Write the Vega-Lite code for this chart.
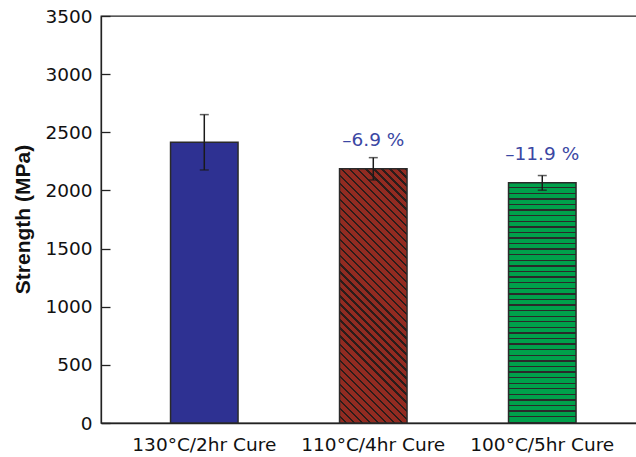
{
  "$schema": "https://vega.github.io/schema/vega-lite/v6.json",
  "autosize": {"type": "none"},
  "padding": {"left": 101, "top": 16, "right": -5, "bottom": 34},
  "width": 540,
  "height": 407,
  "background": "white",
  "config": {
    "view": {"stroke": "#222222", "strokeWidth": 1.3},
    "axis": {"domainColor": "#222222", "domainWidth": 1.3, "tickColor": "#222222", "tickWidth": 1.3, "grid": false, "labelColor": "#111111", "titleColor": "#111111"}
  },
  "data": {"values": [
    {"cure": "130°C/2hr Cure", "strength": 2414, "low": 2176, "high": 2652, "label": ""},
    {"cure": "110°C/4hr Cure", "strength": 2186, "low": 2090, "high": 2282, "label": "–6.9 %"},
    {"cure": "100°C/5hr Cure", "strength": 2065, "low": 2002, "high": 2128, "label": "–11.9 %"}
  ]},
  "encoding": {
    "x": {"field": "cure", "type": "nominal", "sort": null,
      "scale": {"paddingInner": 0.6006, "paddingOuter": 0.398, "align": 0.517},
      "axis": {"title": null, "labelAngle": 0, "ticks": false, "labelPadding": 12, "labelFont": "DejaVu Sans", "labelFontSize": 18.5, "labelBaseline": "top"}}
  },
  "layer": [
    {
      "transform": [{"filter": "datum.cure === '130°C/2hr Cure'"}],
      "mark": {"type": "bar", "fill": "#2e3192", "stroke": "#2a2a2a", "strokeWidth": 1.5},
      "encoding": {
        "y": {"field": "strength", "type": "quantitative",
          "scale": {"domain": [0, 3500], "nice": false, "zero": true},
          "axis": {
            "title": "Strength (MPa)", "titleFont": "Liberation Sans", "titleFontSize": 21, "titleFontWeight": "bold",
            "titleX": -72, "titleY": 203, "titleAlign": "center", "titleBaseline": "alphabetic", "titleAngle": -90,
            "values": [0, 250, 500, 750, 1000, 1250, 1500, 1750, 2000, 2250, 2500, 2750, 3000, 3250, 3500],
            "format": "d",
            "labelExpr": "datum.value % 500 === 0 ? datum.label : ''",
            "labelFont": "DejaVu Sans", "labelFontSize": 18.5, "labelPadding": 18, "labelFlush": false, "labelOverlap": false,
            "tickSize": {"condition": {"test": "datum.value % 500 !== 0", "value": -5}, "value": -9}
          }}
      }
    },
    {
      "transform": [{"filter": "datum.cure === '110°C/4hr Cure'"}],
      "mark": {"type": "bar", "stroke": "#2a2a2a", "strokeWidth": 1.5,
        "fill": {"gradient": "linear", "x1": 0, "y1": 1, "x2": 0.3139, "y2": -0.1822, "stops": [
          {"offset": 0, "color": "#922b21"}, {"offset": 0.0175, "color": "#922b21"}, {"offset": 0.0175, "color": "#2b1c1a"}, {"offset": 0.025, "color": "#2b1c1a"},
          {"offset": 0.025, "color": "#922b21"}, {"offset": 0.0425, "color": "#922b21"}, {"offset": 0.0425, "color": "#2b1c1a"}, {"offset": 0.05, "color": "#2b1c1a"},
          {"offset": 0.05, "color": "#922b21"}, {"offset": 0.0675, "color": "#922b21"}, {"offset": 0.0675, "color": "#2b1c1a"}, {"offset": 0.075, "color": "#2b1c1a"},
          {"offset": 0.075, "color": "#922b21"}, {"offset": 0.0925, "color": "#922b21"}, {"offset": 0.0925, "color": "#2b1c1a"}, {"offset": 0.1, "color": "#2b1c1a"},
          {"offset": 0.1, "color": "#922b21"}, {"offset": 0.1175, "color": "#922b21"}, {"offset": 0.1175, "color": "#2b1c1a"}, {"offset": 0.125, "color": "#2b1c1a"},
          {"offset": 0.125, "color": "#922b21"}, {"offset": 0.1425, "color": "#922b21"}, {"offset": 0.1425, "color": "#2b1c1a"}, {"offset": 0.15, "color": "#2b1c1a"},
          {"offset": 0.15, "color": "#922b21"}, {"offset": 0.1675, "color": "#922b21"}, {"offset": 0.1675, "color": "#2b1c1a"}, {"offset": 0.175, "color": "#2b1c1a"},
          {"offset": 0.175, "color": "#922b21"}, {"offset": 0.1925, "color": "#922b21"}, {"offset": 0.1925, "color": "#2b1c1a"}, {"offset": 0.2, "color": "#2b1c1a"},
          {"offset": 0.2, "color": "#922b21"}, {"offset": 0.2175, "color": "#922b21"}, {"offset": 0.2175, "color": "#2b1c1a"}, {"offset": 0.225, "color": "#2b1c1a"},
          {"offset": 0.225, "color": "#922b21"}, {"offset": 0.2425, "color": "#922b21"}, {"offset": 0.2425, "color": "#2b1c1a"}, {"offset": 0.25, "color": "#2b1c1a"},
          {"offset": 0.25, "color": "#922b21"}, {"offset": 0.2675, "color": "#922b21"}, {"offset": 0.2675, "color": "#2b1c1a"}, {"offset": 0.275, "color": "#2b1c1a"},
          {"offset": 0.275, "color": "#922b21"}, {"offset": 0.2925, "color": "#922b21"}, {"offset": 0.2925, "color": "#2b1c1a"}, {"offset": 0.3, "color": "#2b1c1a"},
          {"offset": 0.3, "color": "#922b21"}, {"offset": 0.3175, "color": "#922b21"}, {"offset": 0.3175, "color": "#2b1c1a"}, {"offset": 0.325, "color": "#2b1c1a"},
          {"offset": 0.325, "color": "#922b21"}, {"offset": 0.3425, "color": "#922b21"}, {"offset": 0.3425, "color": "#2b1c1a"}, {"offset": 0.35, "color": "#2b1c1a"},
          {"offset": 0.35, "color": "#922b21"}, {"offset": 0.3675, "color": "#922b21"}, {"offset": 0.3675, "color": "#2b1c1a"}, {"offset": 0.375, "color": "#2b1c1a"},
          {"offset": 0.375, "color": "#922b21"}, {"offset": 0.3925, "color": "#922b21"}, {"offset": 0.3925, "color": "#2b1c1a"}, {"offset": 0.4, "color": "#2b1c1a"},
          {"offset": 0.4, "color": "#922b21"}, {"offset": 0.4175, "color": "#922b21"}, {"offset": 0.4175, "color": "#2b1c1a"}, {"offset": 0.425, "color": "#2b1c1a"},
          {"offset": 0.425, "color": "#922b21"}, {"offset": 0.4425, "color": "#922b21"}, {"offset": 0.4425, "color": "#2b1c1a"}, {"offset": 0.45, "color": "#2b1c1a"},
          {"offset": 0.45, "color": "#922b21"}, {"offset": 0.4675, "color": "#922b21"}, {"offset": 0.4675, "color": "#2b1c1a"}, {"offset": 0.475, "color": "#2b1c1a"},
          {"offset": 0.475, "color": "#922b21"}, {"offset": 0.4925, "color": "#922b21"}, {"offset": 0.4925, "color": "#2b1c1a"}, {"offset": 0.5, "color": "#2b1c1a"},
          {"offset": 0.5, "color": "#922b21"}, {"offset": 0.5175, "color": "#922b21"}, {"offset": 0.5175, "color": "#2b1c1a"}, {"offset": 0.525, "color": "#2b1c1a"},
          {"offset": 0.525, "color": "#922b21"}, {"offset": 0.5425, "color": "#922b21"}, {"offset": 0.5425, "color": "#2b1c1a"}, {"offset": 0.55, "color": "#2b1c1a"},
          {"offset": 0.55, "color": "#922b21"}, {"offset": 0.5675, "color": "#922b21"}, {"offset": 0.5675, "color": "#2b1c1a"}, {"offset": 0.575, "color": "#2b1c1a"},
          {"offset": 0.575, "color": "#922b21"}, {"offset": 0.5925, "color": "#922b21"}, {"offset": 0.5925, "color": "#2b1c1a"}, {"offset": 0.6, "color": "#2b1c1a"},
          {"offset": 0.6, "color": "#922b21"}, {"offset": 0.6175, "color": "#922b21"}, {"offset": 0.6175, "color": "#2b1c1a"}, {"offset": 0.625, "color": "#2b1c1a"},
          {"offset": 0.625, "color": "#922b21"}, {"offset": 0.6425, "color": "#922b21"}, {"offset": 0.6425, "color": "#2b1c1a"}, {"offset": 0.65, "color": "#2b1c1a"},
          {"offset": 0.65, "color": "#922b21"}, {"offset": 0.6675, "color": "#922b21"}, {"offset": 0.6675, "color": "#2b1c1a"}, {"offset": 0.675, "color": "#2b1c1a"},
          {"offset": 0.675, "color": "#922b21"}, {"offset": 0.6925, "color": "#922b21"}, {"offset": 0.6925, "color": "#2b1c1a"}, {"offset": 0.7, "color": "#2b1c1a"},
          {"offset": 0.7, "color": "#922b21"}, {"offset": 0.7175, "color": "#922b21"}, {"offset": 0.7175, "color": "#2b1c1a"}, {"offset": 0.725, "color": "#2b1c1a"},
          {"offset": 0.725, "color": "#922b21"}, {"offset": 0.7425, "color": "#922b21"}, {"offset": 0.7425, "color": "#2b1c1a"}, {"offset": 0.75, "color": "#2b1c1a"},
          {"offset": 0.75, "color": "#922b21"}, {"offset": 0.7675, "color": "#922b21"}, {"offset": 0.7675, "color": "#2b1c1a"}, {"offset": 0.775, "color": "#2b1c1a"},
          {"offset": 0.775, "color": "#922b21"}, {"offset": 0.7925, "color": "#922b21"}, {"offset": 0.7925, "color": "#2b1c1a"}, {"offset": 0.8, "color": "#2b1c1a"},
          {"offset": 0.8, "color": "#922b21"}, {"offset": 0.8175, "color": "#922b21"}, {"offset": 0.8175, "color": "#2b1c1a"}, {"offset": 0.825, "color": "#2b1c1a"},
          {"offset": 0.825, "color": "#922b21"}, {"offset": 0.8425, "color": "#922b21"}, {"offset": 0.8425, "color": "#2b1c1a"}, {"offset": 0.85, "color": "#2b1c1a"},
          {"offset": 0.85, "color": "#922b21"}, {"offset": 0.8675, "color": "#922b21"}, {"offset": 0.8675, "color": "#2b1c1a"}, {"offset": 0.875, "color": "#2b1c1a"},
          {"offset": 0.875, "color": "#922b21"}, {"offset": 0.8925, "color": "#922b21"}, {"offset": 0.8925, "color": "#2b1c1a"}, {"offset": 0.9, "color": "#2b1c1a"},
          {"offset": 0.9, "color": "#922b21"}, {"offset": 0.9175, "color": "#922b21"}, {"offset": 0.9175, "color": "#2b1c1a"}, {"offset": 0.925, "color": "#2b1c1a"},
          {"offset": 0.925, "color": "#922b21"}, {"offset": 0.9425, "color": "#922b21"}, {"offset": 0.9425, "color": "#2b1c1a"}, {"offset": 0.95, "color": "#2b1c1a"},
          {"offset": 0.95, "color": "#922b21"}, {"offset": 0.9675, "color": "#922b21"}, {"offset": 0.9675, "color": "#2b1c1a"}, {"offset": 0.975, "color": "#2b1c1a"},
          {"offset": 0.975, "color": "#922b21"}, {"offset": 0.9925, "color": "#922b21"}, {"offset": 0.9925, "color": "#2b1c1a"}, {"offset": 1, "color": "#2b1c1a"}
        ]}},
      "encoding": {"y": {"field": "strength", "type": "quantitative"}}
    },
    {
      "transform": [{"filter": "datum.cure === '100°C/5hr Cure'"}],
      "mark": {"type": "bar", "stroke": "#2a2a2a", "strokeWidth": 1.5,
        "fill": {"gradient": "linear", "x1": 0, "y1": 0, "x2": 0, "y2": 1, "stops": [
          {"offset": 0, "color": "#00a14b"}, {"offset": 0.0175, "color": "#00a14b"}, {"offset": 0.0175, "color": "#2a2a2a"}, {"offset": 0.02326, "color": "#2a2a2a"},
          {"offset": 0.02326, "color": "#00a14b"}, {"offset": 0.04076, "color": "#00a14b"}, {"offset": 0.04076, "color": "#2a2a2a"}, {"offset": 0.04651, "color": "#2a2a2a"},
          {"offset": 0.04651, "color": "#00a14b"}, {"offset": 0.06401, "color": "#00a14b"}, {"offset": 0.06401, "color": "#2a2a2a"}, {"offset": 0.06977, "color": "#2a2a2a"},
          {"offset": 0.06977, "color": "#00a14b"}, {"offset": 0.08727, "color": "#00a14b"}, {"offset": 0.08727, "color": "#2a2a2a"}, {"offset": 0.09302, "color": "#2a2a2a"},
          {"offset": 0.09302, "color": "#00a14b"}, {"offset": 0.11052, "color": "#00a14b"}, {"offset": 0.11052, "color": "#2a2a2a"}, {"offset": 0.11628, "color": "#2a2a2a"},
          {"offset": 0.11628, "color": "#00a14b"}, {"offset": 0.13378, "color": "#00a14b"}, {"offset": 0.13378, "color": "#2a2a2a"}, {"offset": 0.13953, "color": "#2a2a2a"},
          {"offset": 0.13953, "color": "#00a14b"}, {"offset": 0.15703, "color": "#00a14b"}, {"offset": 0.15703, "color": "#2a2a2a"}, {"offset": 0.16279, "color": "#2a2a2a"},
          {"offset": 0.16279, "color": "#00a14b"}, {"offset": 0.18029, "color": "#00a14b"}, {"offset": 0.18029, "color": "#2a2a2a"}, {"offset": 0.18605, "color": "#2a2a2a"},
          {"offset": 0.18605, "color": "#00a14b"}, {"offset": 0.20355, "color": "#00a14b"}, {"offset": 0.20355, "color": "#2a2a2a"}, {"offset": 0.2093, "color": "#2a2a2a"},
          {"offset": 0.2093, "color": "#00a14b"}, {"offset": 0.2268, "color": "#00a14b"}, {"offset": 0.2268, "color": "#2a2a2a"}, {"offset": 0.23256, "color": "#2a2a2a"},
          {"offset": 0.23256, "color": "#00a14b"}, {"offset": 0.25006, "color": "#00a14b"}, {"offset": 0.25006, "color": "#2a2a2a"}, {"offset": 0.25581, "color": "#2a2a2a"},
          {"offset": 0.25581, "color": "#00a14b"}, {"offset": 0.27331, "color": "#00a14b"}, {"offset": 0.27331, "color": "#2a2a2a"}, {"offset": 0.27907, "color": "#2a2a2a"},
          {"offset": 0.27907, "color": "#00a14b"}, {"offset": 0.29657, "color": "#00a14b"}, {"offset": 0.29657, "color": "#2a2a2a"}, {"offset": 0.30233, "color": "#2a2a2a"},
          {"offset": 0.30233, "color": "#00a14b"}, {"offset": 0.31983, "color": "#00a14b"}, {"offset": 0.31983, "color": "#2a2a2a"}, {"offset": 0.32558, "color": "#2a2a2a"},
          {"offset": 0.32558, "color": "#00a14b"}, {"offset": 0.34308, "color": "#00a14b"}, {"offset": 0.34308, "color": "#2a2a2a"}, {"offset": 0.34884, "color": "#2a2a2a"},
          {"offset": 0.34884, "color": "#00a14b"}, {"offset": 0.36634, "color": "#00a14b"}, {"offset": 0.36634, "color": "#2a2a2a"}, {"offset": 0.37209, "color": "#2a2a2a"},
          {"offset": 0.37209, "color": "#00a14b"}, {"offset": 0.38959, "color": "#00a14b"}, {"offset": 0.38959, "color": "#2a2a2a"}, {"offset": 0.39535, "color": "#2a2a2a"},
          {"offset": 0.39535, "color": "#00a14b"}, {"offset": 0.41285, "color": "#00a14b"}, {"offset": 0.41285, "color": "#2a2a2a"}, {"offset": 0.4186, "color": "#2a2a2a"},
          {"offset": 0.4186, "color": "#00a14b"}, {"offset": 0.4361, "color": "#00a14b"}, {"offset": 0.4361, "color": "#2a2a2a"}, {"offset": 0.44186, "color": "#2a2a2a"},
          {"offset": 0.44186, "color": "#00a14b"}, {"offset": 0.45936, "color": "#00a14b"}, {"offset": 0.45936, "color": "#2a2a2a"}, {"offset": 0.46512, "color": "#2a2a2a"},
          {"offset": 0.46512, "color": "#00a14b"}, {"offset": 0.48262, "color": "#00a14b"}, {"offset": 0.48262, "color": "#2a2a2a"}, {"offset": 0.48837, "color": "#2a2a2a"},
          {"offset": 0.48837, "color": "#00a14b"}, {"offset": 0.50587, "color": "#00a14b"}, {"offset": 0.50587, "color": "#2a2a2a"}, {"offset": 0.51163, "color": "#2a2a2a"},
          {"offset": 0.51163, "color": "#00a14b"}, {"offset": 0.52913, "color": "#00a14b"}, {"offset": 0.52913, "color": "#2a2a2a"}, {"offset": 0.53488, "color": "#2a2a2a"},
          {"offset": 0.53488, "color": "#00a14b"}, {"offset": 0.55238, "color": "#00a14b"}, {"offset": 0.55238, "color": "#2a2a2a"}, {"offset": 0.55814, "color": "#2a2a2a"},
          {"offset": 0.55814, "color": "#00a14b"}, {"offset": 0.57564, "color": "#00a14b"}, {"offset": 0.57564, "color": "#2a2a2a"}, {"offset": 0.5814, "color": "#2a2a2a"},
          {"offset": 0.5814, "color": "#00a14b"}, {"offset": 0.5989, "color": "#00a14b"}, {"offset": 0.5989, "color": "#2a2a2a"}, {"offset": 0.60465, "color": "#2a2a2a"},
          {"offset": 0.60465, "color": "#00a14b"}, {"offset": 0.62215, "color": "#00a14b"}, {"offset": 0.62215, "color": "#2a2a2a"}, {"offset": 0.62791, "color": "#2a2a2a"},
          {"offset": 0.62791, "color": "#00a14b"}, {"offset": 0.64541, "color": "#00a14b"}, {"offset": 0.64541, "color": "#2a2a2a"}, {"offset": 0.65116, "color": "#2a2a2a"},
          {"offset": 0.65116, "color": "#00a14b"}, {"offset": 0.66866, "color": "#00a14b"}, {"offset": 0.66866, "color": "#2a2a2a"}, {"offset": 0.67442, "color": "#2a2a2a"},
          {"offset": 0.67442, "color": "#00a14b"}, {"offset": 0.69192, "color": "#00a14b"}, {"offset": 0.69192, "color": "#2a2a2a"}, {"offset": 0.69767, "color": "#2a2a2a"},
          {"offset": 0.69767, "color": "#00a14b"}, {"offset": 0.71517, "color": "#00a14b"}, {"offset": 0.71517, "color": "#2a2a2a"}, {"offset": 0.72093, "color": "#2a2a2a"},
          {"offset": 0.72093, "color": "#00a14b"}, {"offset": 0.73843, "color": "#00a14b"}, {"offset": 0.73843, "color": "#2a2a2a"}, {"offset": 0.74419, "color": "#2a2a2a"},
          {"offset": 0.74419, "color": "#00a14b"}, {"offset": 0.76169, "color": "#00a14b"}, {"offset": 0.76169, "color": "#2a2a2a"}, {"offset": 0.76744, "color": "#2a2a2a"},
          {"offset": 0.76744, "color": "#00a14b"}, {"offset": 0.78494, "color": "#00a14b"}, {"offset": 0.78494, "color": "#2a2a2a"}, {"offset": 0.7907, "color": "#2a2a2a"},
          {"offset": 0.7907, "color": "#00a14b"}, {"offset": 0.8082, "color": "#00a14b"}, {"offset": 0.8082, "color": "#2a2a2a"}, {"offset": 0.81395, "color": "#2a2a2a"},
          {"offset": 0.81395, "color": "#00a14b"}, {"offset": 0.83145, "color": "#00a14b"}, {"offset": 0.83145, "color": "#2a2a2a"}, {"offset": 0.83721, "color": "#2a2a2a"},
          {"offset": 0.83721, "color": "#00a14b"}, {"offset": 0.85471, "color": "#00a14b"}, {"offset": 0.85471, "color": "#2a2a2a"}, {"offset": 0.86047, "color": "#2a2a2a"},
          {"offset": 0.86047, "color": "#00a14b"}, {"offset": 0.87797, "color": "#00a14b"}, {"offset": 0.87797, "color": "#2a2a2a"}, {"offset": 0.88372, "color": "#2a2a2a"},
          {"offset": 0.88372, "color": "#00a14b"}, {"offset": 0.90122, "color": "#00a14b"}, {"offset": 0.90122, "color": "#2a2a2a"}, {"offset": 0.90698, "color": "#2a2a2a"},
          {"offset": 0.90698, "color": "#00a14b"}, {"offset": 0.92448, "color": "#00a14b"}, {"offset": 0.92448, "color": "#2a2a2a"}, {"offset": 0.93023, "color": "#2a2a2a"},
          {"offset": 0.93023, "color": "#00a14b"}, {"offset": 0.94773, "color": "#00a14b"}, {"offset": 0.94773, "color": "#2a2a2a"}, {"offset": 0.95349, "color": "#2a2a2a"},
          {"offset": 0.95349, "color": "#00a14b"}, {"offset": 0.97099, "color": "#00a14b"}, {"offset": 0.97099, "color": "#2a2a2a"}, {"offset": 0.97674, "color": "#2a2a2a"},
          {"offset": 0.97674, "color": "#00a14b"}, {"offset": 0.99424, "color": "#00a14b"}, {"offset": 0.99424, "color": "#2a2a2a"}, {"offset": 1, "color": "#2a2a2a"}
        ]}},
      "encoding": {"y": {"field": "strength", "type": "quantitative"}}
    },
    {
      "mark": {"type": "rule", "color": "#1a1a1a", "strokeWidth": 1.5},
      "encoding": {"y": {"field": "low", "type": "quantitative"}, "y2": {"field": "high"}}
    },
    {
      "mark": {"type": "tick", "color": "#1a1a1a", "thickness": 1.5, "size": 9, "orient": "horizontal"},
      "encoding": {"y": {"field": "high", "type": "quantitative"}}
    },
    {
      "mark": {"type": "tick", "color": "#1a1a1a", "thickness": 1.5, "size": 9, "orient": "horizontal"},
      "encoding": {"y": {"field": "low", "type": "quantitative"}}
    },
    {
      "mark": {"type": "text", "font": "DejaVu Sans", "fontSize": 18.5, "color": "#3b47a3", "baseline": "alphabetic", "align": "center", "dy": -23},
      "encoding": {"y": {"field": "strength", "type": "quantitative"}, "text": {"field": "label"}}
    }
  ]
}
